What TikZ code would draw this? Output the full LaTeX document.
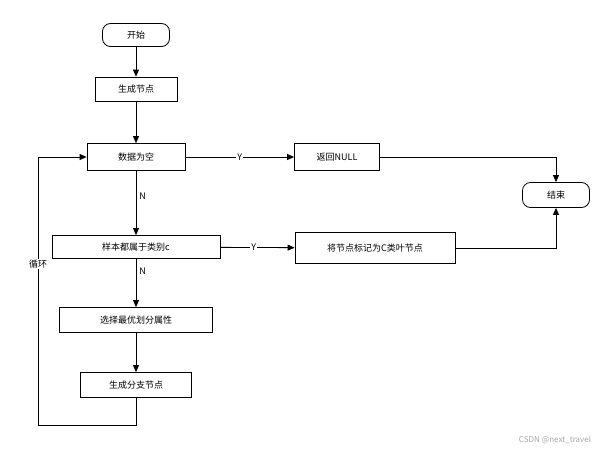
\documentclass[tikz,border=0pt]{standalone}
\usepackage{fontspec}
\setmainfont{Noto Sans CJK SC}
\usetikzlibrary{positioning,arrows.meta}
\tikzset{
  procbox/.style={rectangle, draw, thick, fill=white, minimum height=24pt, font=\fontsize{9}{10}\selectfont},
  termbox/.style={rectangle, rounded corners=8pt, draw, thick, fill=white, minimum height=23pt, minimum width=67pt, font=\fontsize{9}{10}\selectfont},
  flow/.style={thick, -{Triangle[length=7pt,width=6pt]}},
  lbl/.style={fill=white, inner sep=1pt, font=\fontsize{9}{10}\selectfont}
}
\begin{document}
\begin{tikzpicture}[x=1pt,y=-1pt]
\useasboundingbox (0,0) rectangle (609,452);

\node (start) [termbox] at (136,35) {开始};
\node (gen) [procbox, minimum width=82pt] at (136,89) {生成节点};
\node (empty) [procbox, minimum width=98pt, minimum height=27pt] at (136,157) {数据为空};
\node (ret) [procbox, minimum width=85pt, minimum height=27pt] at (337,157) {返回NULL};
\node (stop) [termbox, minimum height=25pt] at (556,195) {结束};
\node (same) [procbox, minimum width=168pt, minimum height=23pt] at (136,247) {样本都属于类别c};
\node (leaf) [procbox, minimum width=160pt, minimum height=31pt] at (375,248) {将节点标记为C类叶节点};
\node (best) [procbox, minimum width=153pt, minimum height=25pt] at (136,320) {选择最优划分属性};
\node (branch) [procbox, minimum width=111pt, minimum height=25pt] at (136,385) {生成分支节点};

\draw [flow] (start) -- (gen);
\draw [flow] (gen) -- (empty);
\draw [flow] (empty) -- node [lbl] {Y} (ret);
\draw [flow] (empty) -- node [lbl, pos=0.4, right=2pt] {N} (same);
\draw [flow] (same) -- node [lbl, pos=0.45] {Y} (leaf);
\draw [flow] (same) -- node [lbl, pos=0.25, right=2pt] {N} (best);
\draw [flow] (best) -- (branch);
\draw [flow] (ret.east) -| (stop.north);
\draw [flow] (leaf.east) -| (stop.south);

\coordinate (loopa) at (136,425);
\coordinate (loopb) at (38,425);
\draw [flow] (branch.south) -- (loopa) -- (loopb) -- node [lbl, pos=0.6] {循环} (loopb |- empty) -- (empty.west);

\node (mark) [text=gray!70, font=\fontsize{8}{9}\selectfont] at (555,440) {CSDN @next\_travel};
\end{tikzpicture}
\end{document}
